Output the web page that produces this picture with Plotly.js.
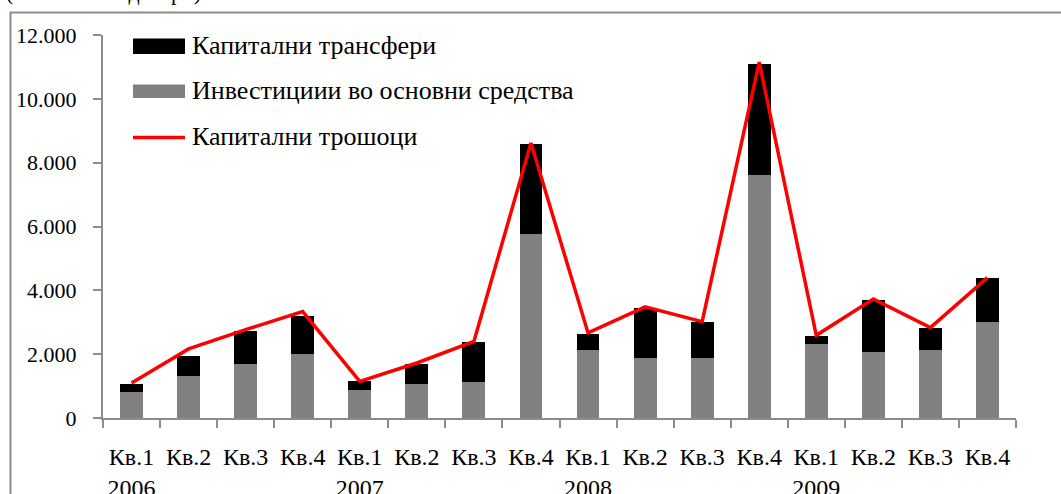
<!DOCTYPE html>
<html>
<head>
<meta charset="utf-8">
<script src="https://cdn.plot.ly/plotly-3.0.1.min.js"></script>
<style>
html,body{margin:0;padding:0;background:#fff;}
#chart{width:1061px;height:494px;}
</style>
</head>
<body>
<div id="chart"></div>
<script>
// Data (millions of denars)
const quarters = ['Кв.1','Кв.2','Кв.3','Кв.4','Кв.1','Кв.2','Кв.3','Кв.4','Кв.1','Кв.2','Кв.3','Кв.4','Кв.1','Кв.2','Кв.3','Кв.4'];
const years = ['2006','','','','2007','','','','2008','','','','2009','','',''];
const investments = [825, 1326, 1702, 2016, 887, 1075, 1138, 5777, 2141, 1890, 1890, 7605, 2329, 2078, 2141, 3019];
const capitalTransfers = [250, 627, 1013, 1191, 260, 627, 1254, 2821, 502, 1568, 1129, 3502, 251, 1630, 690, 1379];
const capitalExpenditure = [1097, 2163, 2768, 3335, 1147, 1724, 2401, 8620, 2665, 3480, 3019, 11150, 2590, 3730, 2831, 4398];
const yTicks = [0, 2000, 4000, 6000, 8000, 10000, 12000];
const yTickText = ['0', '2.000', '4.000', '6.000', '8.000', '10.000', '12.000'];
const legendNames = ['Капитални трансфери', 'Инвестициии во основни средства', 'Капитални трошоци'];

const idx = quarters.map((_, i) => i);
const tickText = quarters.map((q, i) => years[i] ? q + '<br>' + years[i] : q);

// plot area in pixels
const L = 103, R = 1016, T = 35, B = 418;
const px = x => (x - L) / (R - L);
const py = y => (B - y) / (B - T);

const family = '"Liberation Serif", "Times New Roman", serif';
const font = {family: family, size: 22, color: '#000'};
const xFont = {family: family, size: 24, color: '#000'};
const legendFont = {family: family, size: 26, color: '#000'};

const traces = [
  {type: 'bar', x: idx, y: investments, name: legendNames[1], marker: {color: '#808080'}, hoverinfo: 'y'},
  {type: 'bar', x: idx, y: capitalTransfers, name: legendNames[0], marker: {color: '#000000'}, hoverinfo: 'y'},
  {type: 'scatter', mode: 'lines', x: idx, y: capitalExpenditure, name: legendNames[2], line: {color: '#ff0000', width: 3.5}, hoverinfo: 'y'}
];

const shapes = [
  // outer frame
  {type: 'rect', xref: 'paper', yref: 'paper', x0: px(10.5), x1: px(1100), y0: py(600), y1: py(12.5), line: {color: '#8c8c8c', width: 2}, fillcolor: 'rgba(0,0,0,0)', layer: 'below'},
  // legend swatches
  {type: 'rect', xref: 'paper', yref: 'paper', x0: px(133), x1: px(185), y0: py(54), y1: py(38.5), fillcolor: '#000', line: {width: 0}},
  {type: 'rect', xref: 'paper', yref: 'paper', x0: px(133), x1: px(185), y0: py(98), y1: py(84.5), fillcolor: '#808080', line: {width: 0}},
  {type: 'line', xref: 'paper', yref: 'paper', x0: px(133), x1: px(185), y0: py(137.5), y1: py(137.5), line: {color: '#ff0000', width: 3.5}}
];

const legendY = [45, 91, 136];
const annotations = [legendNames[0], legendNames[1], legendNames[2]].map((t, i) => ({
  xref: 'paper', yref: 'paper', x: px(190), y: py(legendY[i]), xanchor: 'left', yanchor: 'middle',
  text: t, showarrow: false, font: legendFont
}));
annotations.push({
  xref: 'paper', yref: 'paper', x: px(4), y: py(7), xanchor: 'left', yanchor: 'bottom',
  text: '(во милиони денари)', showarrow: false, font: font
});

const layout = {
  width: 1061, height: 494,
  margin: {l: L, r: 1061 - R, t: T, b: 494 - B, pad: 0},
  paper_bgcolor: '#fff', plot_bgcolor: '#fff',
  barmode: 'stack', bargap: 0.6,
  showlegend: false,
  font: font,
  xaxis: {
    type: 'linear', range: [-0.5, 15.5], fixedrange: true,
    tickmode: 'array', tickvals: idx, ticktext: tickText,
    ticks: '', showgrid: false, zeroline: false,
    showline: true, linecolor: '#8c8c8c', linewidth: 2,
    ticklabelstandoff: 16,
    tickfont: xFont,
    minor: {tickmode: 'array', tickvals: idx.concat([idx.length]).map(i => i - 0.5), ticks: 'outside', ticklen: 8, tickcolor: '#8c8c8c', tickwidth: 2, showgrid: false}
  },
  yaxis: {
    range: [0, 12000], fixedrange: true,
    tickmode: 'array', tickvals: yTicks, ticktext: yTickText,
    ticks: 'outside', ticklen: 8, tickcolor: '#8c8c8c', tickwidth: 2,
    showgrid: false, zeroline: false,
    showline: true, linecolor: '#8c8c8c', linewidth: 2,
    ticklabelstandoff: 12,
    tickfont: font
  },
  shapes: shapes,
  annotations: annotations
};

Plotly.newPlot('chart', traces, layout, {displayModeBar: false, staticPlot: true});
</script>
</body>
</html>
